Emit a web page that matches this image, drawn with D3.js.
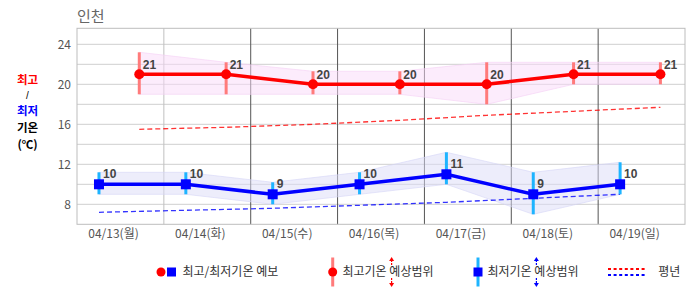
<!DOCTYPE html>
<html><head><meta charset="utf-8">
<script src="https://cdn.jsdelivr.net/npm/d3@7"></script>
<style>body{margin:0;background:#fff}svg{display:block}</style>
</head><body>
<svg id="c" width="686" height="295"></svg>
<script>
const dates = ['04/13(월)','04/14(화)','04/15(수)','04/16(목)','04/17(금)','04/18(토)','04/19(일)'];
const maxTemp = [21,21,20,20,20,21,21];
const minTemp = [10,10,9,10,11,9,10];
const maxRangeHigh = [23.2,22.2,21.3,21.3,22.2,22.2,22.2];
const maxRangeLow = [19,19,19,19,18,20,20];
const minRangeHigh = [11.2,11.2,10.2,11.2,13.2,11.2,12.2];
const minRangeLow = [9,9,8,9,10,7,9];
const maxNormal = [15.5,15.7,16.0,16.4,16.9,17.3,17.7];
const minNormal = [7.2,7.4,7.6,7.9,8.2,8.6,9.0];
const yTicks = [8,12,16,20,24];
const yGrid = [8,10,12,14,16,18,20,22,24];

const svg = d3.select('#c');
const L=77, R=685, T=28.3, B=224.3;
const x = d3.scaleBand().domain(dates).range([L,R]);
const y = d3.scaleLinear().domain([6,25.6]).range([B,T]);
const bw = x.bandwidth();
const xMax = d => x(d) + bw*0.717;
const xMin = d => x(d) + bw*0.253;
const KR = "'Noto Sans CJK KR','Noto Sans',sans-serif";

// grid
const g = svg.append('g');
g.selectAll('.hg').data(yGrid).enter().append('line')
  .attr('x1',L).attr('x2',R).attr('y1',d=>y(d)).attr('y2',d=>y(d))
  .attr('stroke','#cfcfcf').attr('stroke-width',1);
g.selectAll('.vg').data(dates.slice(1)).enter().append('line')
  .attr('x1',d=>x(d)).attr('x2',d=>x(d)).attr('y1',T).attr('y2',B)
  .attr('stroke',(d,i)=>i===0?'#c0c0c0':'#555').attr('stroke-width',1);
g.append('rect').attr('x',L).attr('y',T).attr('width',R-L).attr('height',B-T)
  .attr('fill','none').attr('stroke','#bdbdbd').attr('stroke-width',1);

// y ticks
svg.selectAll('.yt').data(yTicks).enter().append('text')
  .attr('x',71).attr('y',d=>y(d)).attr('dy','0.35em').attr('text-anchor','end')
  .attr('font-family',KR).attr('font-size',12).attr('fill','#555').text(d=>d);
// x labels
svg.selectAll('.xt').data(dates).enter().append('text')
  .attr('x',d=>x(d)+36.5).attr('y',234).attr('dy','0.35em').attr('text-anchor','middle')
  .attr('font-family',KR).attr('font-size',12).attr('fill','#555').text(d=>d);

// title
svg.append('text').attr('x',77).attr('y',22).attr('font-family',KR).attr('font-size',15)
  .attr('fill','#666').text('인천');

// left label
const ll = [['최고','#f00',79.5,11.5,'bold',KR],['/','#000',95.3,10,'normal',"'Liberation Sans',sans-serif"],['최저','#00f',111,11.5,'bold',KR],['기온','#000',127.8,11.5,'bold',KR],['(℃)','#000',144.6,11.5,'bold',KR]];
svg.selectAll('.ll').data(ll).enter().append('text')
  .attr('x',27.5).attr('y',d=>d[2]).attr('dy','0.35em').attr('text-anchor','middle')
  .attr('font-family',d=>d[5]).attr('font-size',d=>d[3]).attr('font-weight',d=>d[4])
  .attr('fill',d=>d[1]).text(d=>d[0]);

// range bands
const idx = d3.range(dates.length);
const areaMax = d3.area().x(i=>xMax(dates[i])).y0(i=>y(maxRangeLow[i])).y1(i=>y(maxRangeHigh[i]));
const areaMin = d3.area().x(i=>xMin(dates[i])).y0(i=>y(minRangeLow[i])).y1(i=>y(minRangeHigh[i]));
svg.append('path').attr('d',areaMax(idx)).attr('fill','#f9d9f9').attr('fill-opacity',0.5)
  .attr('stroke','#f5d0f5').attr('stroke-opacity',0.6);
svg.append('path').attr('d',areaMin(idx)).attr('fill','#dcdcf8').attr('fill-opacity',0.5)
  .attr('stroke','#d6d6f6').attr('stroke-opacity',0.6);

// normals
const lnMax = d3.line().x(i=>xMax(dates[i])).y(i=>y(maxNormal[i]));
const lnMin = d3.line().x(i=>xMin(dates[i])).y(i=>y(minNormal[i]));
svg.append('path').attr('d',lnMax(idx)).attr('fill','none').attr('stroke','#f00')
  .attr('stroke-width',1.3).attr('stroke-dasharray','5,3').attr('stroke-opacity',0.8);
svg.append('path').attr('d',lnMin(idx)).attr('fill','none').attr('stroke','#00f')
  .attr('stroke-width',1.3).attr('stroke-dasharray','5,3').attr('stroke-opacity',0.8);

// range bars
svg.selectAll('.rbM').data(idx).enter().append('line')
  .attr('x1',i=>xMax(dates[i])).attr('x2',i=>xMax(dates[i]))
  .attr('y1',i=>y(maxRangeHigh[i])).attr('y2',i=>y(maxRangeLow[i]))
  .attr('stroke','#ff7b7b').attr('stroke-width',3);
svg.selectAll('.rbm').data(idx).enter().append('line')
  .attr('x1',i=>xMin(dates[i])).attr('x2',i=>xMin(dates[i]))
  .attr('y1',i=>y(minRangeHigh[i])).attr('y2',i=>y(minRangeLow[i]))
  .attr('stroke','#1eb4ff').attr('stroke-width',3);

// main lines
const lMax = d3.line().x(i=>xMax(dates[i])).y(i=>y(maxTemp[i]));
const lMin = d3.line().x(i=>xMin(dates[i])).y(i=>y(minTemp[i]));
svg.append('path').attr('d',lMax(idx)).attr('fill','none').attr('stroke','#f00').attr('stroke-width',3.5);
svg.append('path').attr('d',lMin(idx)).attr('fill','none').attr('stroke','#00f').attr('stroke-width',3.5);

svg.selectAll('.pM').data(idx).enter().append('circle')
  .attr('cx',i=>xMax(dates[i])).attr('cy',i=>y(maxTemp[i])).attr('r',5).attr('fill','#f00');
svg.selectAll('.pm').data(idx).enter().append('rect')
  .attr('x',i=>xMin(dates[i])-5).attr('y',i=>y(minTemp[i])-5).attr('width',10).attr('height',10).attr('fill','#00f');

// value labels
const VF = "'Liberation Sans',Arial,sans-serif";
svg.selectAll('.vM').data(idx).enter().append('text')
  .attr('x',i=>xMax(dates[i])+3.5).attr('y',i=>y(maxTemp[i])-5.5)
  .attr('font-family',VF).attr('font-size',12).attr('font-weight','bold').attr('fill','#444')
  .text(i=>maxTemp[i]);
svg.selectAll('.vm').data(idx).enter().append('text')
  .attr('x',i=>xMin(dates[i])+4).attr('y',i=>y(minTemp[i])-6)
  .attr('font-family',VF).attr('font-size',12).attr('font-weight','bold').attr('fill','#444')
  .text(i=>minTemp[i]);

// legend
const ly = 272;
const lg = svg.append('g');
const lt = (tx,s)=>lg.append('text').attr('x',tx).attr('y',ly).attr('dy','0.35em')
  .attr('font-family',KR).attr('font-size',12).attr('fill','#333').text(s);
lg.append('circle').attr('cx',161).attr('cy',ly).attr('r',4.5).attr('fill','#f00');
lg.append('rect').attr('x',167).attr('y',ly-4.5).attr('width',9).attr('height',9).attr('fill','#00f');
lt(182.5,'최고/최저기온 예보');

lg.append('line').attr('x1',332.7).attr('x2',332.7).attr('y1',257.5).attr('y2',286.5).attr('stroke','#ff7b7b').attr('stroke-width',3);
lg.append('circle').attr('cx',332.7).attr('cy',ly).attr('r',4.5).attr('fill','#f00');
lt(342.5,'최고기온 예상범위');
function arrows(ax,col){
  lg.append('line').attr('x1',ax).attr('x2',ax).attr('y1',260).attr('y2',266).attr('stroke',col).attr('stroke-width',1.2).attr('stroke-dasharray','2,1');
  lg.append('path').attr('d',`M${ax-2.5},${261}L${ax},${257}L${ax+2.5},${261}Z`).attr('fill',col);
  lg.append('line').attr('x1',ax).attr('x2',ax).attr('y1',278).attr('y2',284).attr('stroke',col).attr('stroke-width',1.2).attr('stroke-dasharray','2,1');
  lg.append('path').attr('d',`M${ax-2.5},${283}L${ax},${287}L${ax+2.5},${283}Z`).attr('fill',col);
}
arrows(391.6,'#f00');

lg.append('line').attr('x1',478).attr('x2',478).attr('y1',257.5).attr('y2',286.5).attr('stroke','#1eb4ff').attr('stroke-width',3);
lg.append('rect').attr('x',473.5).attr('y',ly-4.5).attr('width',9).attr('height',9).attr('fill','#00f');
lt(487.5,'최저기온 예상범위');
arrows(536.4,'#00f');

lg.append('line').attr('x1',608).attr('x2',647).attr('y1',269).attr('y2',269).attr('stroke','#f00').attr('stroke-width',2).attr('stroke-dasharray','3,2.6');
lg.append('line').attr('x1',608).attr('x2',647).attr('y1',275).attr('y2',275).attr('stroke','#00f').attr('stroke-width',2).attr('stroke-dasharray','3,2.6');
lt(658.3,'평년');
</script>
</body></html>
